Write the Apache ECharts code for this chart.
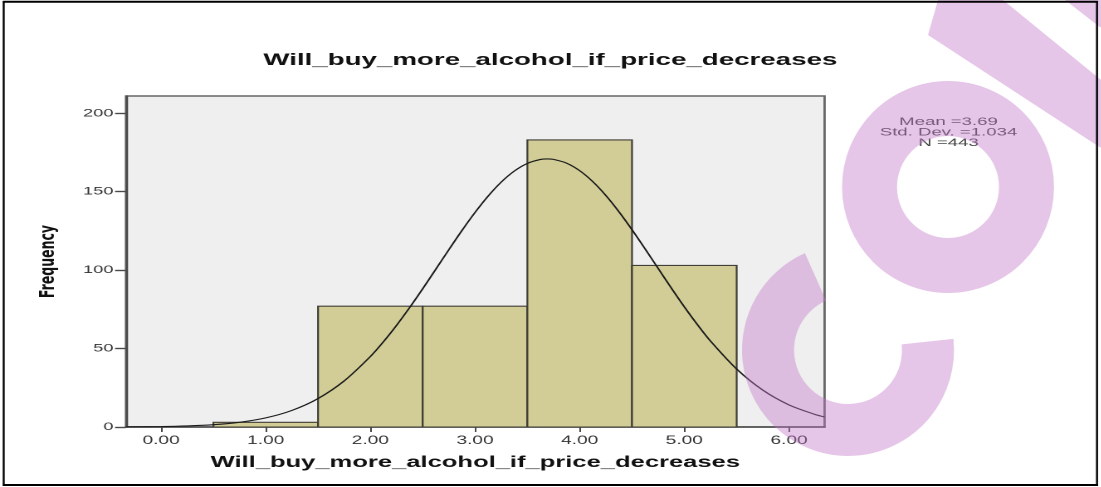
<!DOCTYPE html>
<html>
<head>
<meta charset="utf-8">
<script src="https://cdn.jsdelivr.net/npm/echarts@6/dist/echarts.min.js"></script>
<style>
  html, body { margin: 0; padding: 0; background: #fff; overflow: hidden; }
  #chart { position: absolute; left: 0; top: 0; height: 487px; transform-origin: 0 0; }
</style>
</head>
<body>
<div id="chart"></div>
<script>
// Histogram bins (item values 1..5) and their frequencies
const binStart = [0.5, 1.5, 2.5, 3.5, 4.5];
const binEnd = [1.5, 2.5, 3.5, 4.5, 5.5];
const frequency = [3, 77, 77, 183, 103];

// Fitted normal curve (Mean 3.69, SD 1.034, N 443), sampled along the axis
const curveX = [-0.335, 0, 0.25, 0.5, 0.75, 1, 1.25, 1.5, 1.75, 2, 2.125, 2.25, 2.375, 2.5, 2.625, 2.75, 2.875,
  3, 3.125, 3.25, 3.375, 3.5, 3.625, 3.69, 3.75, 3.875, 4, 4.125, 4.25, 4.375, 4.5, 4.625, 4.75, 4.875,
  5, 5.125, 5.25, 5.5, 5.75, 6, 6.25, 6.34];
const curveY = [0.09, 0.29, 0.68, 1.47, 3.0, 5.8, 10.56, 18.14, 29.4, 44.94, 54.37, 64.8, 76.12, 88.13, 100.55,
  113.05, 125.27, 136.78, 147.2, 156.11, 163.15, 168.04, 170.56, 170.9, 170.61, 168.19, 163.39, 156.42,
  147.59, 137.23, 125.75, 113.55, 101.05, 88.62, 76.59, 65.24, 54.76, 36.93, 23.49, 14.09, 7.97, 6.4];

// Axis ticks
const xTicks = [0, 1, 2, 3, 4, 5, 6];
const yTicks = [0, 50, 100, 150, 200];

const statsLines = ['Mean =3.69', 'Std. Dev. =1.034', 'N =443'];
const chartTitle = 'Will_buy_more_alcohol_if_price_decreases';

// The chart is laid out narrow and stretched horizontally
const S = 1.66;
const W = 1101 / S;
const dom = document.getElementById('chart');
dom.style.width = W + 'px';
dom.style.transform = 'scaleX(' + S + ')';

const chart = echarts.init(dom, null, { renderer: 'canvas', devicePixelRatio: 2 });

const bins = binStart.map((s, i) => [s, binEnd[i], frequency[i]]);
const curve = curveX.map((x, i) => [x, curveY[i]]);

const FONT = '"Liberation Sans", Arial, Helvetica, sans-serif';
const WM = 'rgba(196,120,200,0.42)';
const sx = v => v / S;

chart.setOption({
  animation: false,
  backgroundColor: '#ffffff',
  title: {
    text: chartTitle,
    left: 'center',
    top: 47,
    textStyle: { fontFamily: FONT, fontWeight: 'bold', fontSize: 16.7, color: '#111' }
  },
  grid: {
    left: sx(126), right: W - sx(825), top: 96, bottom: 60,
    show: true, backgroundColor: '#efefef', borderColor: '#666', borderWidth: 1.4
  },
  xAxis: {
    type: 'value',
    min: -0.335, max: 6.34,
    name: chartTitle,
    nameLocation: 'middle',
    nameGap: 28,
    nameTextStyle: { fontFamily: FONT, fontWeight: 'bold', fontSize: 15.4, color: '#111' },
    axisLine: { show: true, onZero: false, lineStyle: { color: '#4a4a4a', width: 1.5 } },
    axisTick: { show: true, customValues: xTicks, length: 5, lineStyle: { color: '#4a4a4a', width: 1 } },
    axisLabel: {
      customValues: xTicks, margin: 8,
      fontFamily: FONT, fontSize: 11.5, color: '#333',
      formatter: v => Number(v).toFixed(2)
    },
    splitLine: { show: false }
  },
  yAxis: {
    type: 'value',
    min: 0, max: 211,
    name: 'Frequency',
    nameLocation: 'middle',
    nameRotate: 90,
    nameGap: 40,
    nameTextStyle: { fontFamily: '"DejaVu Sans", sans-serif', fontWeight: 'bold', fontSize: 12.5, color: '#111' },
    axisLine: { show: true, onZero: false, lineStyle: { color: '#4a4a4a', width: 1.3 } },
    axisTick: { show: true, customValues: yTicks, length: 6.6, lineStyle: { color: '#4a4a4a', width: 1.4 } },
    axisLabel: {
      customValues: yTicks, margin: 7.5,
      fontFamily: FONT, fontSize: 11, color: '#333'
    },
    splitLine: { show: false }
  },
  series: [
    {
      type: 'custom',
      data: bins,
      encode: { x: [0, 1], y: 2 },
      renderItem: function (params, api) {
        const top = api.coord([api.value(0), api.value(2)]);
        const base = api.coord([api.value(1), 0]);
        return {
          type: 'rect',
          shape: { x: top[0], y: top[1], width: base[0] - top[0], height: base[1] - top[1] },
          style: { fill: '#d2cd96', stroke: '#403f38', lineWidth: 1.1 }
        };
      },
      z: 2
    },
    {
      type: 'line',
      data: curve,
      smooth: 0.3,
      symbol: 'none',
      lineStyle: { color: '#1c1c1c', width: 1.1 },
      z: 3
    }
  ],
  graphic: [
    {
      type: 'text',
      x: sx(948.5), y: 117,
      z: 10,
      style: {
        text: statsLines.join('\n'),
        font: '11.2px ' + FONT,
        fontSize: 11.2, fontFamily: FONT,
        lineHeight: 10.3,
        align: 'center', textAlign: 'center',
        verticalAlign: 'top', textVerticalAlign: 'top',
        fill: '#444'
      }
    },
    // pink watermark shapes
    {
      type: 'ring', x: sx(948), y: 187, scaleX: 1 / S, z: 50, silent: true,
      shape: { cx: 0, cy: 0, r: 106, r0: 51 },
      style: { fill: WM }
    },
    {
      type: 'sector', x: sx(848), y: 350, scaleX: 1 / S, z: 50, silent: true,
      shape: { cx: 0, cy: 0, r: 106, r0: 54, startAngle: -6 * Math.PI / 180, endAngle: 246 * Math.PI / 180, clockwise: true },
      style: { fill: WM }
    },
    {
      type: 'polygon', z: 50, silent: true,
      shape: { points: [[938, 0], [1003, 0], [1101, 80], [1101, 148], [928, 35]].map(p => [sx(p[0]), p[1]]) },
      style: { fill: WM }
    },
    {
      type: 'polygon', z: 50, silent: true,
      shape: { points: [[1065, 0], [1101, 0], [1101, 28]].map(p => [sx(p[0]), p[1]]) },
      style: { fill: WM }
    },
    // outer frame
    { type: 'line', z: 60, shape: { x1: sx(3), y1: 1.7, x2: sx(1098), y2: 1.7 }, style: { stroke: '#000', lineWidth: 2 } },
    { type: 'line', z: 60, shape: { x1: sx(3), y1: 485, x2: sx(1098), y2: 485 }, style: { stroke: '#000', lineWidth: 2 } },
    { type: 'line', z: 60, shape: { x1: sx(3.7), y1: 1, x2: sx(3.7), y2: 486 }, style: { stroke: '#000', lineWidth: 2 / S } },
    { type: 'line', z: 60, shape: { x1: sx(1097), y1: 1, x2: sx(1097), y2: 486 }, style: { stroke: '#000', lineWidth: 2 / S } }
  ]
});
</script>
</body>
</html>
